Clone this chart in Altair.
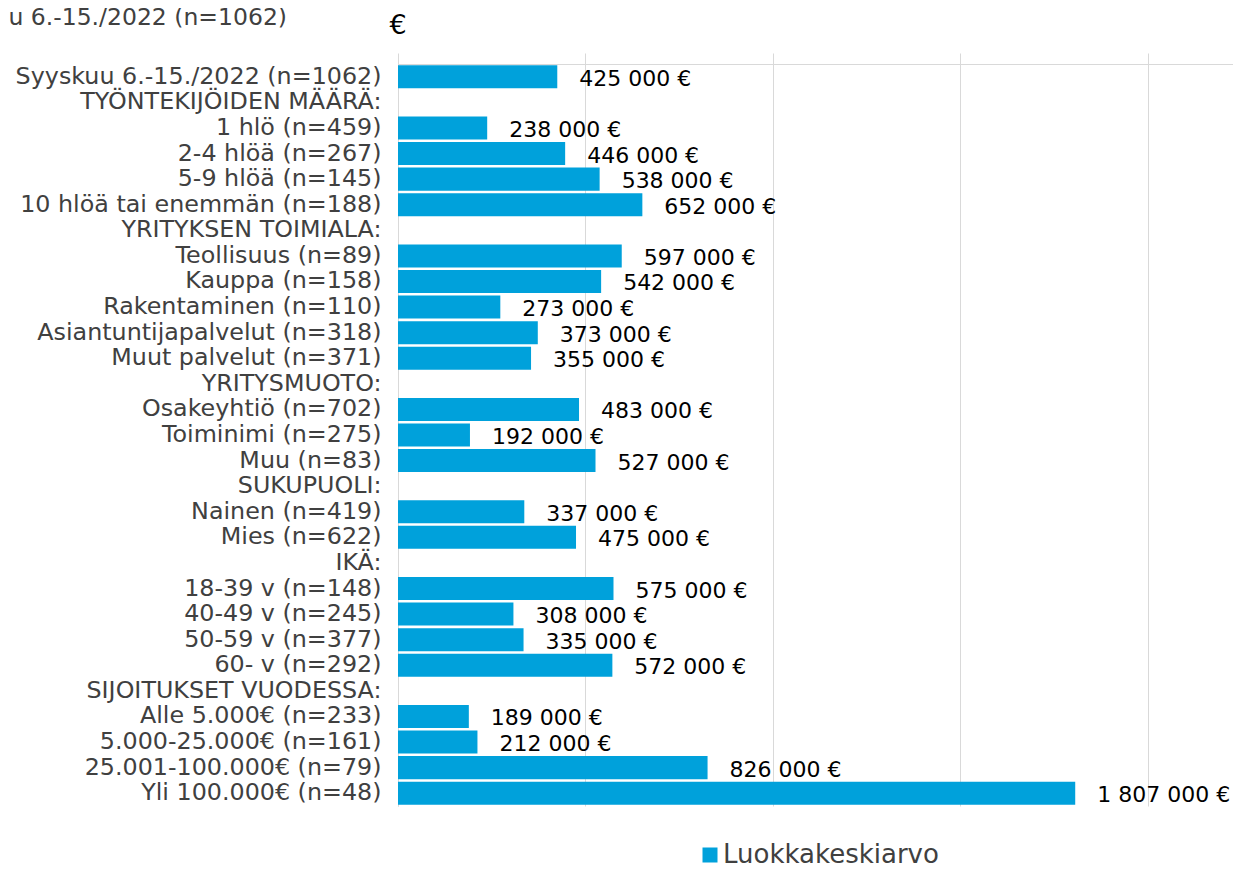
import altair as alt
import pandas as pd

categories = [
    "Syyskuu 6.-15./2022 (n=1062)",
    "TYÖNTEKIJÖIDEN MÄÄRÄ:",
    "1 hlö (n=459)",
    "2-4 hlöä (n=267)",
    "5-9 hlöä (n=145)",
    "10 hlöä tai enemmän (n=188)",
    "YRITYKSEN TOIMIALA:",
    "Teollisuus (n=89)",
    "Kauppa (n=158)",
    "Rakentaminen (n=110)",
    "Asiantuntijapalvelut (n=318)",
    "Muut palvelut (n=371)",
    "YRITYSMUOTO:",
    "Osakeyhtiö (n=702)",
    "Toiminimi (n=275)",
    "Muu (n=83)",
    "SUKUPUOLI:",
    "Nainen (n=419)",
    "Mies (n=622)",
    "IKÄ:",
    "18-39 v (n=148)",
    "40-49 v (n=245)",
    "50-59 v (n=377)",
    "60- v (n=292)",
    "SIJOITUKSET VUODESSA:",
    "Alle 5.000€ (n=233)",
    "5.000-25.000€ (n=161)",
    "25.001-100.000€ (n=79)",
    "Yli 100.000€ (n=48)",
]
values = [
    425000, None, 238000, 446000, 538000, 652000, None,
    597000, 542000, 273000, 373000, 355000, None,
    483000, 192000, 527000, None, 337000, 475000, None,
    575000, 308000, 335000, 572000, None,
    189000, 212000, 826000, 1807000,
]
series_name = "Luokkakeskiarvo"
title_text = "Syyskuu 6.-15./2022 (n=1062)"
unit_text = "€"
x_ticks = [0, 500000, 1000000, 1500000, 2000000]

bar_color = "#00A1DB"
grid_color = "#D9D9D9"
label_color = "#404040"
font = "DejaVu Sans"

df = pd.DataFrame({"cat": categories, "value": values})
df["label"] = df["value"].apply(
    lambda v: "" if pd.isna(v) else f"{int(v):,}".replace(",", " ") + " €"
)
df["series"] = series_name

y_enc = alt.Y(
    "cat:N",
    sort=None,
    title=None,
    scale=alt.Scale(domain=categories, paddingInner=0.1, paddingOuter=0.05),
    axis=alt.Axis(
        ticks=False,
        domainColor=grid_color,
        labelFont=font,
        labelFontSize=23.8,
        labelColor=label_color,
        labelPadding=17,
        labelLimit=0,
        grid=False,
    ),
)
x_enc = alt.X(
    "value:Q",
    title=None,
    scale=alt.Scale(domain=[0, 2228000], nice=False, zero=True),
    axis=alt.Axis(
        orient="top",
        values=x_ticks,
        labels=False,
        tickSize=11,
        tickColor=grid_color,
        domainColor=grid_color,
        grid=True,
        gridColor=grid_color,
    ),
)

base = alt.Chart(df)

bars = base.mark_bar().encode(
    x=x_enc,
    y=y_enc,
    color=alt.Color(
        "series:N",
        scale=alt.Scale(range=[bar_color]),
        legend=alt.Legend(
            orient="none",
            legendX=299,
            legendY=778,
            title=None,
            symbolType="square",
            symbolSize=225,
            symbolStrokeWidth=0,
            labelFont=font,
            labelFontSize=26,
            labelColor=label_color,
            labelOffset=0,
            labelLimit=0,
            padding=0,
        ),
    ),
)

labels = base.transform_filter("datum.value != null").mark_text(
    align="left", baseline="alphabetic", dx=22, dy=9,
    fontSize=22, font=font, color="black",
).encode(x="value:Q", y=alt.Y("cat:N", sort=None), text="label:N")

title_df = pd.DataFrame({"t": [title_text]})
title_mark = alt.Chart(title_df).mark_text(
    align="right", baseline="alphabetic", fontSize=23.5, font=font, color=label_color,
).encode(x=alt.value(-111), y=alt.value(-39), text="t:N")

unit_df = pd.DataFrame({"t": [unit_text]})
unit_mark = alt.Chart(unit_df).mark_text(
    align="center", baseline="middle", fontSize=27, font=font, color="black",
).encode(x=alt.value(0), y=alt.value(-38), text="t:N")

chart = alt.layer(bars, labels, title_mark, unit_mark).properties(
    width=835,
    height=742,
    autosize=alt.AutoSizeParams(type="none"),
    padding={"left": 390, "top": 56, "right": 0, "bottom": 64},
).configure_view(stroke=None)

chart.save("out.html", embed_options={"renderer": "svg", "actions": False})
